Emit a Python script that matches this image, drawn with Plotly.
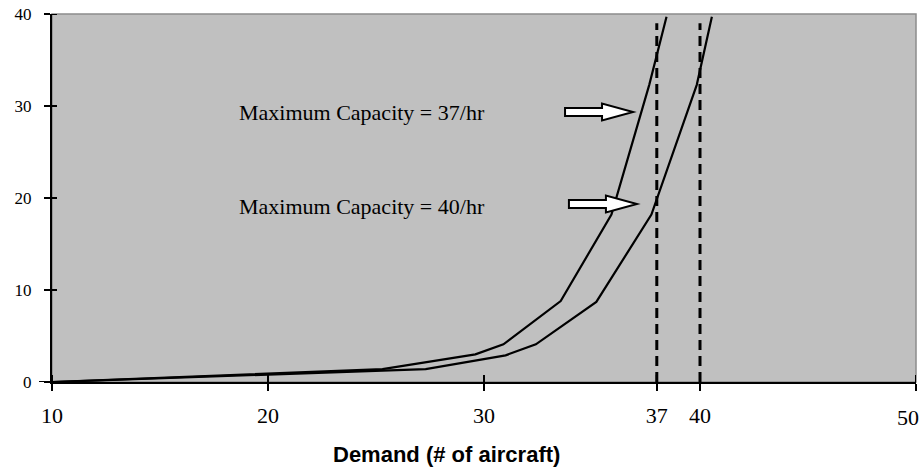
import plotly.graph_objects as go

# Delay curves for two maximum capacities (demand in aircraft, delay in minutes)
demand_37 = [10, 25.3, 29.6, 30.9, 33.55, 35.9, 37.65, 38.45]
delay_37 = [0, 1.4, 3.0, 4.1, 8.8, 18.2, 32.3, 39.7]
demand_40 = [10, 27.3, 31.0, 32.4, 35.2, 37.75, 39.85, 40.55]
delay_40 = [0, 1.4, 2.9, 4.1, 8.7, 18.2, 32.3, 39.7]

# Vertical capacity markers on the demand axis
marker_x = [38, 40]
marker_top = 39

# Axis ticks; the last demand label is drawn separately, right-aligned to the page edge
x_tick_vals = [10, 20, 30, 38, 40, 50]
x_tick_text = ["10", "20", "30", "37", "40", ""]
x_end_label = "50"
y_tick_vals = [0, 10, 20, 30, 40]

# Callout labels and arrow tips (data coordinates)
label_text = ["Maximum Capacity = 37/hr", "Maximum Capacity = 40/hr"]
label_x = [18.55, 18.55]
label_y = [29.3, 19.1]
arrow_tip_x = [36.9, 37.08]
arrow_tip_y = [29.35, 19.35]

serif = "Liberation Serif, Times New Roman, serif"
sans = "Liberation Sans, Arial, sans-serif"

fig = go.Figure()

for xs, ys in [(demand_37, delay_37), (demand_40, delay_40)]:
    fig.add_trace(go.Scatter(
        x=xs, y=ys, mode="lines",
        line=dict(color="black", width=2.2),
        hoverinfo="skip", showlegend=False,
    ))

for mx in marker_x:
    fig.add_trace(go.Scatter(
        x=[mx, mx], y=[0, marker_top], mode="lines",
        line=dict(color="black", width=3, dash="10px,6px"),
        hoverinfo="skip", showlegend=False,
    ))

shapes = []
# thin grey frame round the plotting area
shapes.append(dict(type="rect", xref="paper", yref="paper", x0=0, x1=1, y0=0, y1=1,
                   line=dict(color="#8c8c8c", width=1.5), layer="below"))

# inner halves of the crossing tick marks
for xv in x_tick_vals:
    shapes.append(dict(type="line", xref="x", yref="paper", ysizemode="pixel", yanchor=0,
                       x0=xv, x1=xv, y0=0, y1=7, line=dict(color="black", width=2)))
for yv in y_tick_vals:
    shapes.append(dict(type="line", xref="paper", yref="y", xsizemode="pixel", xanchor=0,
                       x0=0, x1=5, y0=yv, y1=yv, line=dict(color="black", width=2)))
# demand axis line runs a little past the delay axis
shapes.append(dict(type="line", xref="paper", yref="y", xsizemode="pixel", xanchor=0,
                   x0=-13, x1=0, y0=0, y1=0, line=dict(color="black", width=2)))

# block arrows pointing at the curves
arrow_path = "M -68,4 L -31,4 L -31,8.5 L 0,0 L -31,-8.5 L -31,-4 L -68,-4 Z"
for tx, ty in zip(arrow_tip_x, arrow_tip_y):
    shapes.append(dict(type="path", xref="x", yref="y", xsizemode="pixel", ysizemode="pixel",
                       xanchor=tx, yanchor=ty, path=arrow_path,
                       fillcolor="white", line=dict(color="black", width=2)))

annotations = []
for t, lx, ly in zip(label_text, label_x, label_y):
    annotations.append(dict(text=t, x=lx, y=ly, xref="x", yref="y",
                            xanchor="left", yanchor="middle", showarrow=False,
                            font=dict(family=serif, size=22, color="black")))
annotations.append(dict(text=x_end_label, x=x_tick_vals[-1], y=-0.096,
                        xref="x", yref="paper", xanchor="right", yanchor="middle",
                        xshift=5, showarrow=False,
                        font=dict(family=serif, size=22, color="black")))
annotations.append(dict(text="<b>Demand (# of aircraft)</b>", x=0.4566, y=-0.197,
                        xref="paper", yref="paper", xanchor="center", yanchor="middle",
                        showarrow=False, font=dict(family=sans, size=22, color="black")))

fig.update_layout(
    width=922, height=468,
    margin=dict(l=52, r=6, t=14, b=86, autoexpand=False),
    paper_bgcolor="white",
    plot_bgcolor="#c0c0c0",
    shapes=shapes,
    annotations=annotations,
    xaxis=dict(
        range=[10, 50], tickmode="array", tickvals=x_tick_vals, ticktext=x_tick_text,
        ticks="outside", ticklen=7, tickwidth=2, tickcolor="black",
        showline=True, linecolor="black", linewidth=2,
        showgrid=False, zeroline=False, ticklabelstandoff=6,
        ticklabeloverflow="allow", automargin=False,
        tickfont=dict(family=serif, size=22, color="black"),
    ),
    yaxis=dict(
        range=[0, 40], tickmode="array", tickvals=y_tick_vals,
        ticks="outside", ticklen=6, tickwidth=2, tickcolor="black",
        showline=True, linecolor="black", linewidth=2,
        showgrid=False, zeroline=False, ticklabelstandoff=9,
        ticklabeloverflow="allow", automargin=False,
        tickfont=dict(family=serif, size=17, color="black"),
    ),
)

fig.write_html("out.html")
